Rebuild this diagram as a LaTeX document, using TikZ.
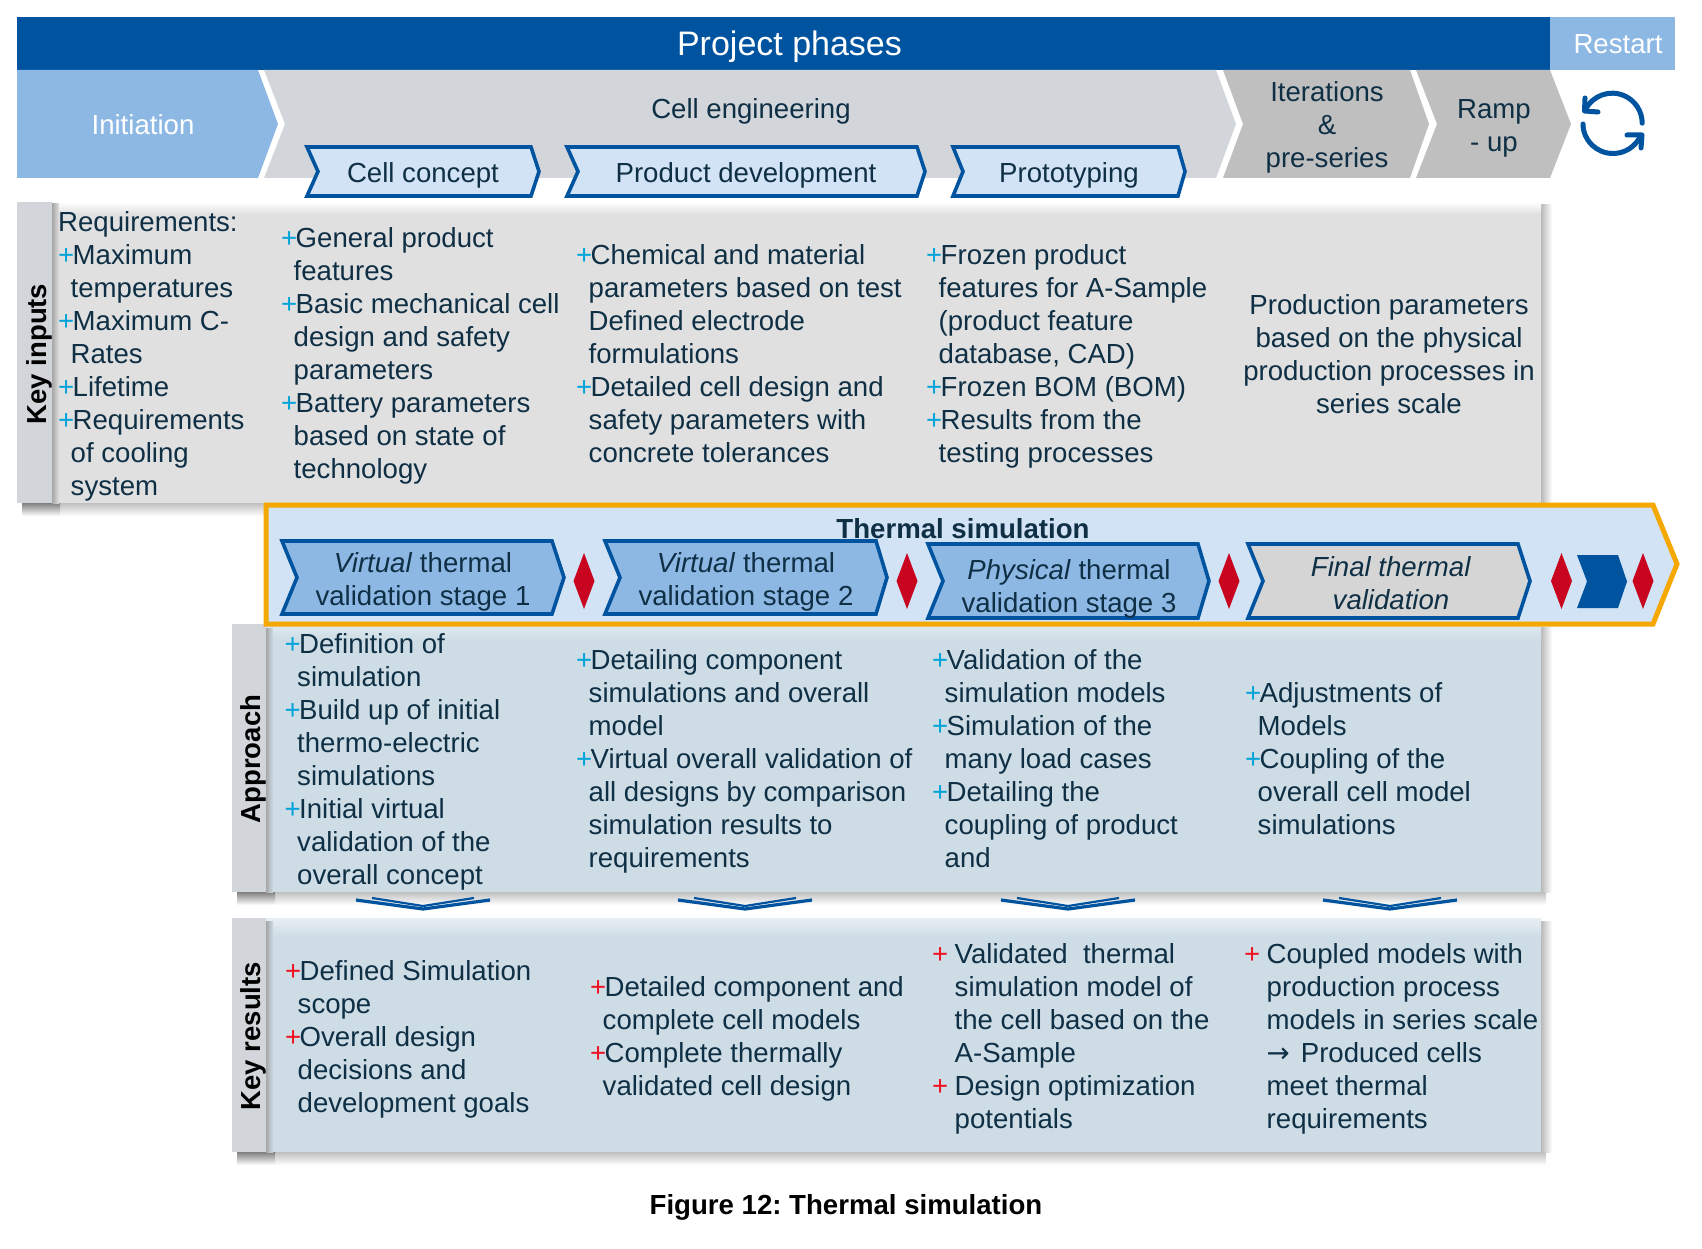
\documentclass[tikz,border=0pt]{standalone}
\usepackage{fontspec}
\setmainfont{Liberation Sans}
\newfontfamily\arrowfont{DejaVu Sans}
\definecolor{navy}{HTML}{00539F}
\definecolor{lightblue}{HTML}{8DB8E4}
\definecolor{paleblue}{HTML}{D2E3F5}
\definecolor{midgray}{HTML}{D2D5DA}
\definecolor{darkgray}{HTML}{BFBFBF}
\definecolor{panelgray}{HTML}{E0E0E0}
\definecolor{panelblue}{HTML}{CDDCE5}
\definecolor{ink}{HTML}{0F2F45}
\definecolor{orangeframe}{HTML}{F5A800}
\definecolor{redmark}{HTML}{C8041F}
\definecolor{plusblue}{HTML}{00A3D9}
\definecolor{plusred}{HTML}{EE1122}
\newcommand\bodysize{\fontsize{27.6}{33}\selectfont\frenchspacing}
\newcommand\fs{\rule{0pt}{22pt}}
\newcommand\pb{\makebox[14.5pt][l]{\textcolor{plusblue}{+}}}
\newcommand\pr{\makebox[14.5pt][l]{\textcolor{plusred}{+}}}
\newcommand\prw{\makebox[22.5pt][l]{\textcolor{plusred}{+}}}
\newcommand\ct{\hspace*{12.5pt}}
\newcommand\ctw{\hspace*{22.5pt}}
\newcommand\chev[7][]{\path[#1] (#2,#6) -- (#4,#6) -- (#5,{(#6+#7)/2}) -- (#4,#7) -- (#2,#7) -- (#3,{(#6+#7)/2}) -- cycle;}
\newcommand\redmark[1]{\path[fill=redmark] (#1-10.5,581) -- (#1,553) -- (#1+10.5,581) -- (#1,609) -- cycle;}
\newcommand\twov[1]{
  \draw[navy,line width=3.2pt,miter limit=10] (#1-67,900) -- (#1,909) -- (#1+67,900);
  \draw[navy,line width=2.2pt,miter limit=10] (#1-51,898) -- (#1,906) -- (#1+51,898);}
\tikzset{
  body/.style={font=\bodysize,text=ink,inner sep=0pt},
  col/.style={body,anchor=north west,align=left},
  ctr/.style={body,align=center},
  band/.style={fill=navy},
  phaseblue/.style={fill=lightblue},
  phasemid/.style={fill=midgray},
  phasedark/.style={fill=darkgray},
  subphase/.style={fill=paleblue,draw=navy,line width=3.6pt},
  stageblue/.style={fill=lightblue,draw=navy,line width=3.6pt},
  stagegray/.style={fill=panelgray!95!black,draw=navy,line width=3.6pt},
  whitetext/.style={font=\bodysize,text=white,inner sep=0pt},
  sidelabel/.style={font=\fontsize{27.5}{32}\bfseries\selectfont,text=black,rotate=90,inner sep=0pt},
  tab/.style={fill=midgray},
  cycleicon/.style={navy,line width=5pt,line cap=round,line join=round}
}
\begin{document}
\begin{tikzpicture}[x=1pt,y=-1pt]
\useasboundingbox (0,0) rectangle (1702,1249);
% header
\fill[band] (17,17) rectangle (1550,70);
\fill[phaseblue] (1550,17) rectangle (1675,70);
\node[font=\fontsize{34}{40}\selectfont,text=white,inner sep=0pt] (title) at (789.5,47) {Project phases};
\node[whitetext] (restart) at (1618,44) {Restart};
% phases
\path[phaseblue] (17,70) -- (258,70) -- (278,124) -- (258,178) -- (17,178) -- cycle;
\chev[phasemid]{264}{285}{1216}{1236}{70}{178}
\chev[phasedark]{1223}{1243}{1410}{1429}{70}{178}
\chev[phasedark]{1416}{1437}{1550}{1571}{70}{178}
\node[whitetext] (initiation) at (143,125) {Initiation};
\node[ctr] (celleng) at (751,111) {Cell engineering};
\node[ctr] (iter) at (1327,126) {\fs Iterations\\\&\\pre-series};
\node[ctr] (ramp) at (1494,127) {\fs Ramp\\- up};
% cycle icon
\draw[cycleicon] (1585,110.5) arc[start angle=-155,end angle=0,radius=30];
\draw[cycleicon] (1585,98) -- (1584.5,111) -- (1598,112);
\draw[cycleicon] (1583,124) arc[start angle=180,end angle=25,x radius=30,y radius=29.5];
\draw[cycleicon] (1627,135) -- (1642,135) -- (1641,148);
% subphases
\chev[subphase]{307}{318}{531}{539}{147}{196}
\chev[subphase]{567}{578}{917}{925}{147}{196}
\chev[subphase]{953}{963}{1178}{1185}{147}{196}
\node[ctr] (concept) at (423,175) {Cell concept};
\node[ctr] (product) at (746,175) {Product development};
\node[ctr] (proto) at (1069,175) {Prototyping};
% key inputs panel
\shade[top color=gray!50,bottom color=white] (52,503) rectangle (300,516);
\shade[left color=gray!55,right color=white] (1541,205) rectangle (1552,503);
\fill[panelgray] (52,202) rectangle (1541,503);
\shade[top color=white,bottom color=panelgray] (52,202) rectangle (1541,214);
\shade[top color=gray,bottom color=white] (22,503) rectangle (60,516);
\shade[left color=gray!70,right color=panelgray] (52,204) rectangle (59,503);
\fill[tab] (17,202) rectangle (52,503);
\node[sidelabel] (kilabel) at (39,354) {Key inputs};
\node[col] (ki1) at (58,209.5) {\fs Requirements:\\\pb Maximum\\\ct temperatures\\\pb Maximum C-\\\ct Rates\\\pb Lifetime\\\pb Requirements\\\ct of cooling\\\ct system};
\node[col] (ki2) at (281,225) {\fs\pb General product\\\ct features\\\pb Basic mechanical cell\\\ct design and safety\\\ct parameters\\\pb Battery parameters\\\ct based on state of\\\ct technology};
\node[col] (ki3) at (576,242) {\fs\pb Chemical and material\\\ct parameters based on test\\\ct Defined electrode\\\ct formulations\\\pb Detailed cell design and\\\ct safety parameters with\\\ct concrete tolerances};
\node[col] (ki4) at (926,242) {\fs\pb Frozen product\\\ct features for A-Sample\\\ct (product feature\\\ct database, CAD)\\\pb Frozen BOM (BOM)\\\pb Results from the\\\ct testing processes};
\node[ctr] (ki5) at (1389,353) {\fs Production parameters\\based on the physical\\production processes in\\series scale};
% approach panel
\shade[top color=gray!50,bottom color=white] (266,892) rectangle (1546,905);
\shade[left color=gray!55,right color=white] (1541,627) rectangle (1552,892);
\fill[panelblue] (266,624) rectangle (1541,892);
\shade[top color=panelblue!60!white,bottom color=panelblue] (266,624) rectangle (1541,640);
\shade[top color=gray,bottom color=white] (237,892) rectangle (275,905);
\shade[left color=gray!70,right color=panelblue] (266,628) rectangle (273,892);
\fill[tab] (232,624) rectangle (266,892);
\node[sidelabel] (aplabel) at (253,759) {Approach};
\node[col] (ap1) at (284.5,631) {\fs\pb Definition of\\\ct simulation\\\pb Build up of initial\\\ct thermo-electric\\\ct simulations\\\pb Initial virtual\\\ct validation of the\\\ct overall concept};
\node[col] (ap2) at (576,647) {\fs\pb Detailing component\\\ct simulations and overall\\\ct model\\\pb Virtual overall validation of\\\ct all designs by comparison\\\ct simulation results to\\\ct requirements};
\node[col] (ap3) at (932,647) {\fs\pb Validation of the\\\ct simulation models\\\pb Simulation of the\\\ct many load cases\\\pb Detailing the\\\ct coupling of product\\\ct and};
\node[col] (ap4) at (1245,680) {\fs\pb Adjustments of\\\ct Models\\\pb Coupling of the\\\ct overall cell model\\\ct simulations};
% double chevrons
\twov{423}\twov{745}\twov{1068}\twov{1390}
% key results panel
\shade[top color=gray!50,bottom color=white] (266,1152) rectangle (1546,1165);
\shade[left color=gray!55,right color=white] (1541,921) rectangle (1552,1152);
\fill[panelblue] (266,918) rectangle (1541,1152);
\shade[top color=panelblue!45!white,bottom color=panelblue] (266,918) rectangle (1541,937);
\shade[top color=gray,bottom color=white] (237,1152) rectangle (275,1165);
\shade[left color=gray!70,right color=panelblue] (266,921) rectangle (273,1152);
\fill[tab] (232,918) rectangle (266,1152);
\node[sidelabel] (krlabel) at (253,1036) {Key results};
\node[col] (kr1) at (285,958) {\fs\pr Defined Simulation\\\ct scope\\\pr Overall design\\\ct decisions and\\\ct development goals};
\node[col] (kr2) at (590,974) {\fs\pr Detailed component and\\\ct complete cell models\\\pr Complete thermally\\\ct validated cell design};
\node[col] (kr3) at (932,941) {\fs\prw Validated\ \ thermal\\\ctw simulation model of\\\ctw the cell based on the\\\ctw A-Sample\\\prw Design optimization\\\ctw potentials};
\node[col] (kr4) at (1244,941) {\fs\prw Coupled models with\\\ctw production process\\\ctw models in series scale\\\ctw {\arrowfont →}\hspace{11pt}Produced cells\\\ctw meet thermal\\\ctw requirements};
% thermal simulation band
\path[fill=paleblue,draw=orangeframe,line width=5pt] (266,505) -- (1653,505) -- (1677,564) -- (1653,624) -- (266,624) -- cycle;
\node[body,font=\fontsize{27.6}{33}\bfseries\selectfont] (thermal) at (963,529) {Thermal simulation};
\chev[stageblue]{282}{297}{552}{564}{541}{614}
\chev[stageblue]{605}{620}{876}{887}{541}{614}
\chev[stageblue]{928}{943}{1198}{1209}{544}{618}
\chev[stagegray]{1248}{1263}{1518}{1530}{544}{618}
\redmark{584}\redmark{907}\redmark{1229}\redmark{1561.5}\redmark{1643}
\chev[fill=navy]{1577}{1587}{1618}{1627}{555}{608}
\node[ctr] (st1) at (423,581) {\fs\textit{Virtual} thermal\\validation stage 1};
\node[ctr] (st2) at (746,581) {\fs\textit{Virtual} thermal\\validation stage 2};
\node[ctr] (st3) at (1069,588) {\fs\textit{Physical} thermal\\validation stage 3};
\node[ctr] (st4) at (1391,582) {\fs\textit{Final thermal}\\\textit{validation}};
% caption
\node[font=\fontsize{27.6}{33}\bfseries\selectfont\frenchspacing,text=black,inner sep=0pt] (caption) at (846,1207) {Figure 12: Thermal simulation};
\end{tikzpicture}
\end{document}
